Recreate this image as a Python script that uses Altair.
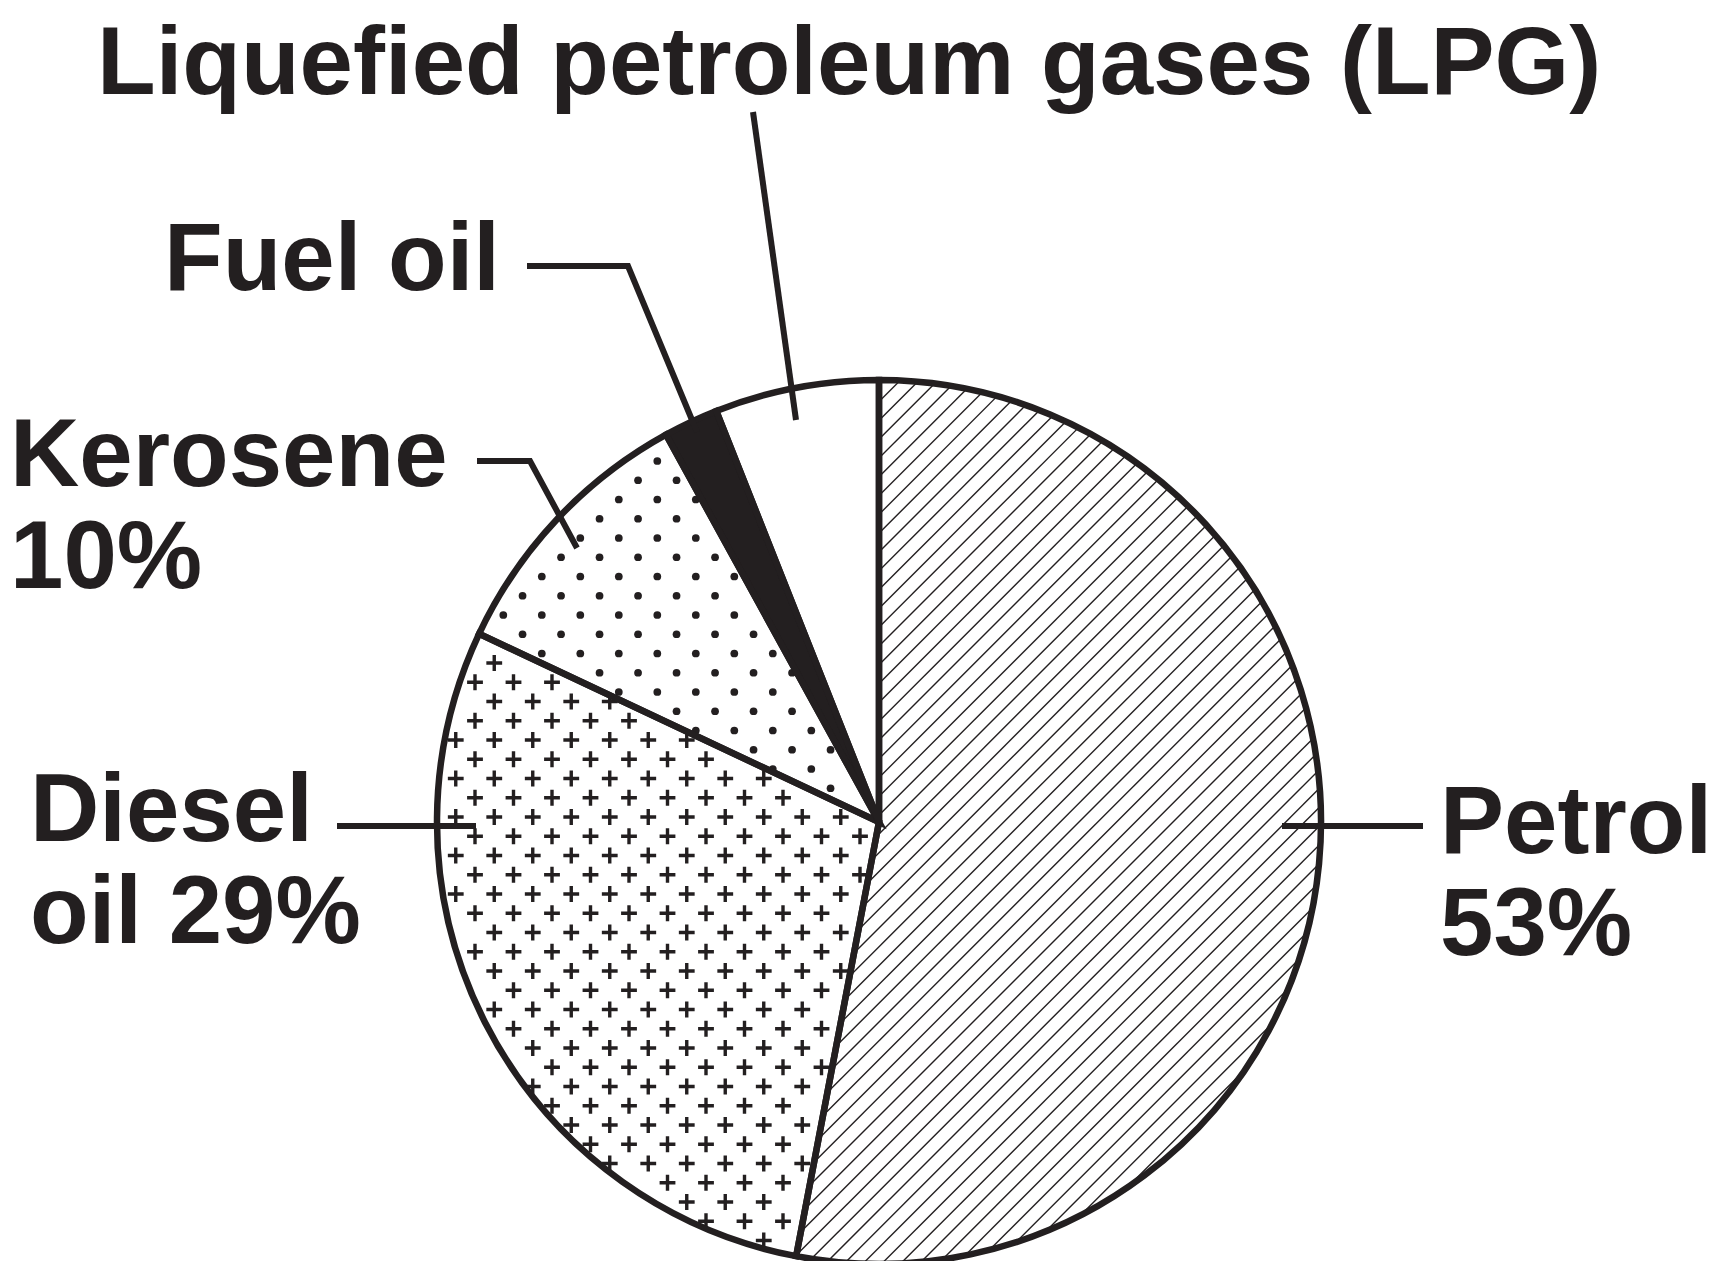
import altair as alt
import pandas as pd
import numpy as np

# ---------------- data ----------------
categories = ["Petrol", "Diesel oil", "Kerosene", "Fuel oil", "Liquefied petroleum gases (LPG)"]
shares = [53, 29, 10, 2, 6]
label_texts = ["Petrol\n53%", "Diesel\noil 29%", "Kerosene\n10%", "Fuel oil",
               "Liquefied petroleum gases (LPG)"]

# ---------------- styles ----------------
INK = "#231f20"
fills = ["transparent", "white", "white", INK, "white"]
FONT = "Liberation Sans, Arial, Helvetica, sans-serif"

# ---------------- layout (page pixels) ----------------
W, H = 1705, 1253
MARGIN = 8
CX, CY, R = 879, 822, 442          # pie centre and radius on the page
OUTLINE = 6.5
LEADER = 6.0

label_anchor = {                    # left edge / baseline of each label
    "Petrol": (1440, 853),
    "Diesel oil": (30, 841),
    "Kerosene": (10, 486),
    "Fuel oil": (164, 290),
    "Liquefied petroleum gases (LPG)": (97, 94),
}
leader_paths = {
    "Petrol": [(1423, 826), (1282, 826)],
    "Diesel oil": [(337, 826), (476, 826)],
    "Kerosene": [(477, 461), (530, 461), (577, 548)],
    "Fuel oil": [(527, 266), (628, 266), (697, 432)],
    "Liquefied petroleum gases (LPG)": [(753, 112), (796, 420)],
}


def ux(X):
    return (X - CX) / R


def uy(Y):
    return (CY - Y) / R


xs = alt.Scale(domain=[ux(MARGIN), ux(MARGIN + W)], nice=False, zero=False)
ys = alt.Scale(domain=[uy(MARGIN + H), uy(MARGIN)], nice=False, zero=False)

# wedge angles (degrees clockwise from 12 o'clock), derived from the shares
total = float(sum(shares))
ends = np.cumsum(shares) * 360.0 / total
starts = ends - np.array(shares) * 360.0 / total

pie = pd.DataFrame({"category": categories, "value": shares, "idx": range(len(categories))})

base_arc = alt.Chart(pie).encode(
    theta=alt.Theta("value:Q", stack=True),
    order=alt.Order("idx:Q"),
    x=alt.X(datum=0, type="quantitative", scale=xs, axis=None),
    y=alt.Y(datum=0, type="quantitative", scale=ys, axis=None),
)

fill_layer = base_arc.mark_arc(radius=R).encode(
    color=alt.Color("category:N", scale=alt.Scale(domain=categories, range=fills), legend=None)
)
stroke_layer = base_arc.mark_arc(radius=R, fillOpacity=0, stroke=INK,
                                 strokeWidth=OUTLINE, strokeJoin="miter").encode(
    detail="category:N"
)

# ---------------- hatch texture (petrol) ----------------
HATCH_STEP, HATCH_PHASE = 18.8, 6.8   # px, vertical spacing of "/" lines
hatch = (
    alt.Chart(alt.sequence(-40, 41, as_="k"))
    .transform_calculate(b=f"(datum.k*{HATCH_STEP} + {HATCH_PHASE})/{R}")
    .transform_filter("datum.b*datum.b < 1.995")
    .transform_calculate(h="sqrt((1 - datum.b*datum.b/2)/2)")
    .transform_calculate(
        x1="-datum.b/2 - datum.h", y1="datum.b/2 - datum.h",
        x2="-datum.b/2 + datum.h", y2="datum.b/2 + datum.h",
    )
    .mark_rule(color=INK, strokeWidth=1.4)
    .encode(
        x=alt.X("x1:Q", scale=xs, axis=None),
        y=alt.Y("y1:Q", scale=ys, axis=None),
        x2="x2:Q",
        y2="y2:Q",
    )
)


# ---------------- staggered textures (diesel crosses, kerosene dots) ----------------
def texture(cat, even_off, odd_off, phase_y, edge, margin):
    i = categories.index(cat)
    a0, a1 = float(starts[i]), float(ends[i])
    SX, SY = 38.5, 19.25
    return (
        alt.Chart(alt.sequence(-26, 27, as_="row"))
        .transform_calculate(col="sequence(-14, 15)")
        .transform_flatten(["col"])
        .transform_calculate(
            px=f"datum.col*{SX} + (abs(datum.row % 2) == 1 ? {odd_off} : {even_off})",
            py=f"datum.row*{SY} + {phase_y}",
        )
        .transform_calculate(
            r="sqrt(datum.px*datum.px + datum.py*datum.py)",
            ang="(atan2(datum.px, datum.py)*180/PI + 360) % 360",
            x=f"datum.px/{R}",
            y=f"datum.py/{R}",
        )
        .transform_filter(
            f"datum.r < {R - edge} && datum.ang > {a0} && datum.ang < {a1}"
            f" && datum.r*sin((datum.ang-{a0})*PI/180) > {margin}"
            f" && datum.r*sin(({a1}-datum.ang)*PI/180) > {margin}"
        )
    )


cross_path = "M-1,0L1,0M0,-1L0,1"
crosses = texture("Diesel oil", 0.25, 19.5, 5.0, 6.0, 5.0).mark_point(
    shape=cross_path, filled=False, size=250, strokeWidth=3.4, color=INK, opacity=1
).encode(
    x=alt.X("x:Q", scale=xs, axis=None),
    y=alt.Y("y:Q", scale=ys, axis=None),
)
dots = texture("Kerosene", 9.3, 28.55, 14.5, 3.0, 2.5).mark_circle(
    size=60, color=INK, opacity=1
).encode(
    x=alt.X("x:Q", scale=xs, axis=None),
    y=alt.Y("y:Q", scale=ys, axis=None),
)

# ---------------- leader lines ----------------
rows = []
for name, pts in leader_paths.items():
    for s, (X, Y) in enumerate(pts):
        rows.append({"name": name, "seq": s, "x": ux(X), "y": uy(Y)})
leaders = alt.Chart(pd.DataFrame(rows)).mark_line(
    color=INK, strokeWidth=LEADER, strokeCap="butt", strokeJoin="miter"
).encode(
    x=alt.X("x:Q", scale=xs, axis=None),
    y=alt.Y("y:Q", scale=ys, axis=None),
    detail="name:N",
    order="seq:Q",
)

# ---------------- labels ----------------
lab = pd.DataFrame({
    "text": label_texts,
    "x": [ux(label_anchor[c][0]) for c in categories],
    "y": [uy(label_anchor[c][1]) for c in categories],
})
labels = alt.Chart(lab).mark_text(
    align="left", baseline="alphabetic", font=FONT, fontWeight="bold",
    fontSize=96, lineBreak="\n", lineHeight=102, color=INK,
).encode(
    x=alt.X("x:Q", scale=xs, axis=None),
    y=alt.Y("y:Q", scale=ys, axis=None),
    text="text:N",
)

chart = (
    alt.layer(hatch, fill_layer, crosses, dots, stroke_layer, leaders, labels)
    .properties(width=W, height=H, padding=0, autosize=alt.AutoSizeParams(type="none"),
                background="white")
    .configure_view(strokeWidth=0)
)

chart.save("out.html", embed_options={"renderer": "svg", "actions": False})
